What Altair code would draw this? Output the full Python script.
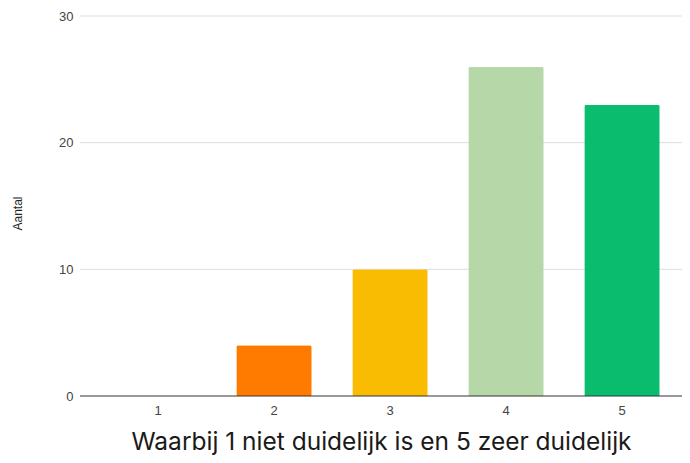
import altair as alt
import pandas as pd

categories = ["1", "2", "3", "4", "5"]
values = [0, 4, 10, 26, 23]
colors = ["#4285F4", "#FF7B00", "#F9BC02", "#B6D7A8", "#0ABD6E"]
y_ticks = [0, 10, 20, 30]

df = pd.DataFrame({"cat": categories, "val": values})
grid_df = pd.DataFrame({"val": y_ticks[1:]})
base_df = pd.DataFrame({"val": [0]})

yscale = alt.Scale(domain=[0, 30], nice=False)
y_axis = alt.Axis(title="Aantal", values=y_ticks, domain=False, ticks=False, grid=False,
                  labelFont="Liberation Sans", labelFontSize=13, labelColor="#444444",
                  labelPadding=7,
                  titleFont="Liberation Sans", titleFontSize=12, titleFontWeight="normal",
                  titleColor="#222222", titleX=-63, titleY=197, titleAngle=-90,
                  titleAlign="center", titleBaseline="middle")

grid = alt.Chart(grid_df).mark_rule(color="#dddddd", strokeWidth=1).encode(
    y=alt.Y("val:Q", scale=yscale, axis=y_axis, title="Aantal"),
    x=alt.value(0), x2=alt.value(612),
)

bars = alt.Chart(df).mark_bar(cornerRadiusTopLeft=2, cornerRadiusTopRight=2).encode(
    x=alt.X("cat:N", sort=categories,
            scale=alt.Scale(range=[20, 600], paddingInner=0.35, paddingOuter=0.175),
            axis=alt.Axis(title="Waarbij 1 niet duidelijk is en 5 zeer duidelijk",
                          labelAngle=0, ticks=False, domain=False,
                          labelFont="Liberation Sans", labelFontSize=13, labelColor="#444444",
                          labelPadding=8,
                          titleFont="Inter", titleFontSize=24.5, titleFontWeight="normal",
                          titleColor="#1a1a1a", titleY=53, titleBaseline="alphabetic",
                          titleX=301, titleAlign="center")),
    y=alt.Y("val:Q", scale=yscale, axis=y_axis, title="Aantal"),
    color=alt.Color("cat:N", sort=categories,
                    scale=alt.Scale(domain=categories, range=colors), legend=None),
)

baseline = alt.Chart(base_df).mark_rule(color="#333333", strokeWidth=1).encode(
    y=alt.Y("val:Q", scale=yscale, axis=y_axis, title="Aantal"),
    x=alt.value(0), x2=alt.value(612),
)

chart = alt.layer(grid, bars, baseline).properties(
    width=602, height=380,
    autosize=alt.AutoSizeParams(type="none"),
    padding={"left": 72, "top": 8, "right": 0, "bottom": 59},
).configure_view(stroke=None)

chart.save("out.html", embed_options={"renderer": "svg", "actions": False})
